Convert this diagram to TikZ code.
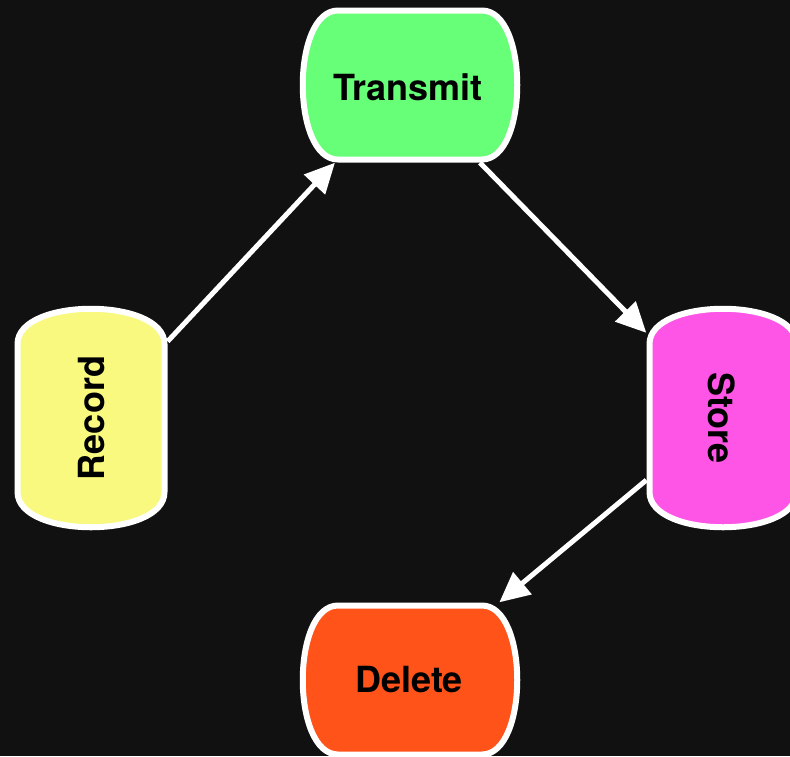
\documentclass[tikz,border=0pt]{standalone}
\usepackage{fontspec}
\setmainfont{TeX Gyre Heros}
\usetikzlibrary{arrows.meta}
\definecolor{bg}{HTML}{111111}
\definecolor{cgreen}{HTML}{66FF77}
\definecolor{cyellow}{HTML}{F9F97F}
\definecolor{cmagenta}{HTML}{FF55E6}
\definecolor{corange}{HTML}{FF531A}
\newcommand\hbarrelshape[3]{%
  \begin{scope}[shift={(#1,#2)}]
    \path[shapeline,fill=#3] (-72,-74.5) -- (72,-74.5)
      .. controls (119,-74.5) and (119,74.5) .. (72,74.5) -- (-72,74.5)
      .. controls (-119,74.5) and (-119,-74.5) .. (-72,-74.5) -- cycle;
  \end{scope}}
\newcommand\vbarrelshape[3]{%
  \begin{scope}[shift={(#1,#2)}]
    \path[shapeline,fill=#3] (-73.5,-74) .. controls (-73.5,-121) and (73.5,-121) .. (73.5,-74)
      -- (73.5,74) .. controls (73.5,121) and (-73.5,121) .. (-73.5,74) -- cycle;
  \end{scope}}
\begin{document}
\begin{tikzpicture}[x=1pt,y=-1pt,
  shapeline/.style={draw=white,line width=6pt,line join=round},
  hbox/.style={rectangle,inner sep=0pt,minimum width=220pt,minimum height=155pt},
  vbox/.style={rectangle,inner sep=0pt,minimum width=153pt,minimum height=220pt},
  lbl/.style={font=\fontsize{36}{40}\selectfont\bfseries,text=black},
  conn/.style={draw=white,line width=5pt,-{Triangle[length=30pt,width=28pt]},shorten >=0pt}]
\fill[bg] (0,0) rectangle (790,756);
\useasboundingbox (0,0) rectangle (790,756);
\hbarrelshape{410}{85}{cgreen}
\vbarrelshape{91}{418}{cyellow}
\vbarrelshape{723}{418}{cmagenta}
\hbarrelshape{410}{680}{corange}
\node[hbox] (T) at (410,85) {};
\node[vbox] (R) at (91,418) {};
\node[vbox] (S) at (723,418) {};
\node[hbox] (D) at (410,680) {};
\node[lbl] (Tl) at (408,87) {Transmit};
\node[lbl,rotate=90] (Rl) at (92,418) {Record};
\node[lbl,rotate=-90] (Sl) at (722,418) {Store};
\node[lbl] (Dl) at (409,680) {Delete};
\draw[conn] (R.45) -- (T.226);
\draw[conn] (T.-48) -- (S.132);
\draw[conn] (S.219) -- (D.41);
\end{tikzpicture}
\end{document}
